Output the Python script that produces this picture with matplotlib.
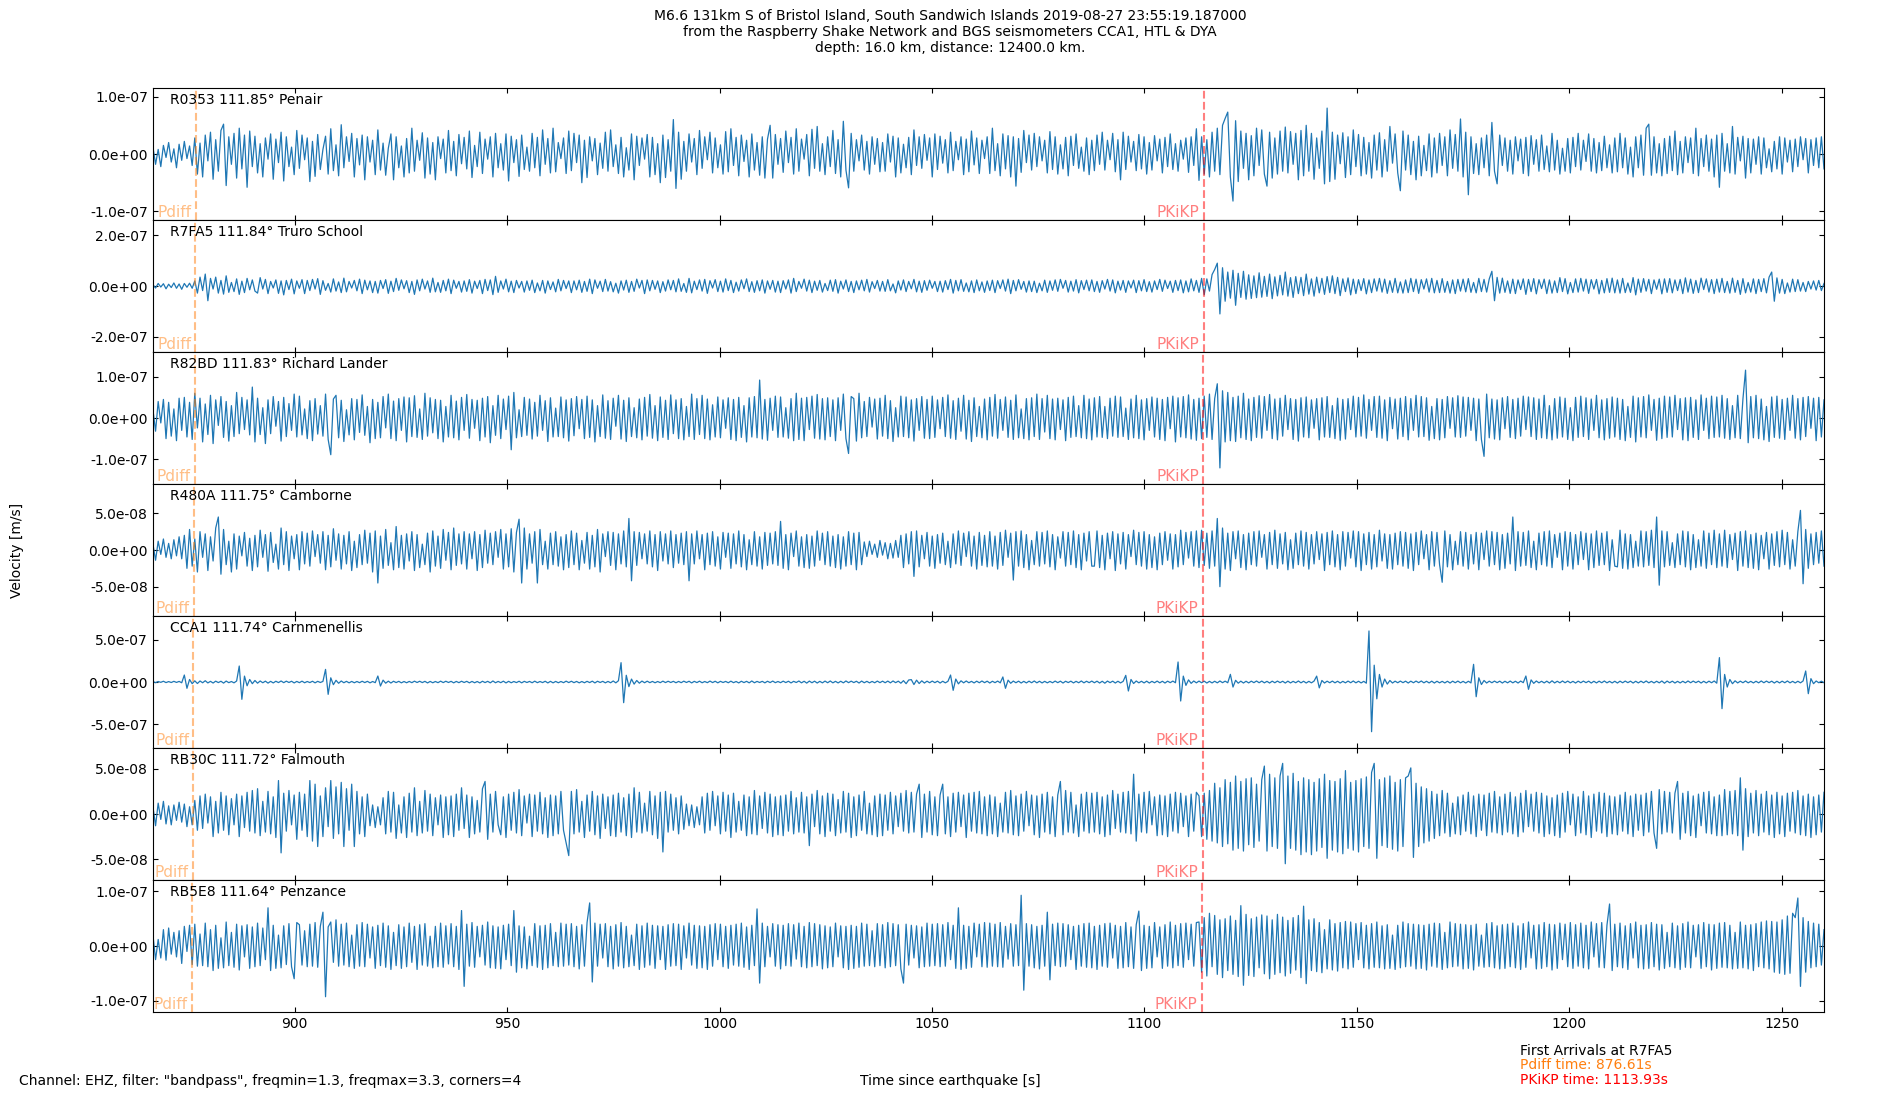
import numpy as np
import matplotlib
matplotlib.use('Agg')
import matplotlib.pyplot as plt
import matplotlib.transforms as mtransforms
from matplotlib.ticker import FormatStrFormatter

# time window of the traces (s since earthquake)
t_start = 866.61
t_end = 1260.0

stations = ['R0353', 'R7FA5', 'R82BD', 'R480A', 'CCA1', 'RB30C', 'RB5E8']
distances = [111.85, 111.84, 111.83, 111.75, 111.74, 111.72, 111.64]
places = ['Penair', 'Truro School', 'Richard Lander', 'Camborne',
          'Carnmenellis', 'Falmouth', 'Penzance']
pdiff_times = [876.66, 876.61, 876.56, 876.19, 876.15, 876.06, 875.69]
pkikp_times = [1113.95, 1113.93, 1113.91, 1113.77, 1113.75, 1113.71, 1113.56]

# velocity peaks, in nm/s (one row ~ 24.7 s)
r0353 = [
    12, -18, 8, -22, 15, -6, 20, -14, 9, -24, 17, -11, 22, -8, 14, -20, 28, -35, 19, -40, 33, -12, 38, -44, 25, -30, 41, 52, -55, 30, -18, 36, -42, 45, -26, 33, -58, 40, -22, 31,
    -33, 18, -40, 28, -9, 35, -44, 26, -15, 38, -47, 30, -22, 12, -36, 41, -25, 33, -10, 28, -48, 22, -39, 34, -27, 8, 31, -35, 44, -29, 16, -38, 51, -24, 30, -13, 36, -40, 27, -19,
    33, -45, 30, -14, 24, -36, 42, -28, 19, -37, 10, 35, -45, 30, -24, 14, -40, 27, -33, 45, -30, 24, -11, 37, -42, 28, -35, 20, -45, 30, -8, 26, -33, 41, -29, 22, -38, 34, -17, 29,
    -26, 40, -41, 15, -22, 38, -34, 26, -9, 30, -40, 36, -24, 18, -28, 35, -47, 31, -15, 25, -39, 33, -27, 12, -30, 36, -24, 29, -38, 42, -18, 27, -33, 45, -31, 20, -8, 28, -34, 40,
    -29, 36, -15, 33, -50, 24, -41, 30, -12, 27, -36, 19, -25, 38, -30, 42, -22, 16, -34, 29, -40, 11, -28, 35, -45, 31, -20, 28, -9, 34, -40, 29, -36, 18, -50, 33, -41, 25, -30, 60,
    -60, 38, -44, 22, -30, 35, -14, 27, -36, 41, -25, 30, -10, 38, -33, 28, -24, 16, -35, 39, -31, 44, -20, 29, -38, 33, -13, 24, -40, 35, -28, 20, -37, 30, -42, 26, 50, -42, 34, -18,
    27, -32, 40, -15, 29, -35, 44, -30, 26, -9, 34, -38, 43, -25, 48, -30, 18, -36, 30, -22, 41, -34, 25, -40, 57, -28, -59, 36, -30, 25, -12, 33, -28, 22, -35, 30, -18, 27, -31, 20,
    -30, 35, -14, 31, -40, 28, -33, 17, -24, 29, -36, 42, -20, 30, -25, 34, -11, 28, -40, 35, -27, 31, -16, 25, -33, 38, -29, 22, -10, 30, -36, 26, -31, 40, -19, 28, -34, 24, -8, 30,
    -34, 45, -29, 18, -38, 35, -26, 32, -40, 30, -56, 27, -32, 41, -15, 33, -28, 36, -22, 30, -12, 24, -33, 39, -27, 30, -35, 16, -26, 29, -38, 31, -20, 35, -25, 12, -30, 28, -36, 24,
    -29, 33, -18, 38, -28, 24, -10, 36, -31, 25, -45, 38, -27, 31, -14, 22, -29, 34, -26, 30, -35, 20, -28, 32, -12, 26, -33, 29, -22, 35, -27, 18, -30, 24, -9, 28, -32, 30, -20, 44,
    -46, 30, -35, 25, -40, 38, -30, 45, -36, 50, 62, 73, -40, -82, 58, -48, 40, -25, 36, -45, 32, -38, 45, -20, 42, -35, -56, 38, -42, 28, -35, 40, -30, 47, -33, 39, -18, 36, -45, 41,
    -38, 50, -30, 36, -44, 28, -25, 40, -52, 80, -48, 38, -44, 33, -17, 37, -41, 30, -36, 42, -22, 34, -38, 29, -35, 20, -42, 33, -28, 37, -40, 25, -30, 48, -16, 35, -33, -64, 40, -28,
    33, -36, 22, -45, 31, -38, 15, -29, 35, -40, 28, -33, 36, -20, 30, -38, 42, -25, 34, -30, 61, -40, 38, -71, 30, -34, 18, -36, 28, -24, 33, -38, 55, -30, -52, 33, -20, 28, -30, 24,
    -35, 30, -12, 26, -34, 29, -38, 32, -18, 25, -30, 33, -27, 14, -31, 36, -28, 24, -35, 10, -30, 27, -33, 29, -22, 36, -28, 24, -13, 35, -30, 27, -33, 20, -29, 31, -24, 16, -33, 28,
    -31, 36, -24, 28, -35, 12, -40, 30, -24, 33, -37, 45, 52, -37, 30, -33, 18, -38, 27, -34, 31, -29, 40, -36, 22, -33, 30, -15, 28, -34, 45, -38, 27, -22, 33, -30, 26, -40, 33, -58,
    36, -30, 18, -33, 48, -35, 29, -12, 31, -42, 27, -33, 26, -18, 30, -35, 28, -24, 9, -31, 22, -26, 30, -35, 28, -14, 24, -31, 26, -22, 30, -10, 27, -33, 25, -20, 28, -24, 30, -26,
]
r7fa5 = [
    5, -8, 10, -4, 9, -11, 7, -6, 12, -9, 8, -13, 10, -5, 11, -9, 20, -28, 35, -18, 47, -58, 30, -12, 35, -28, 22, -32, 40, -25, 14, -22, 28, -33, 19, -26, 30, -15, 24, -20,
    -28, 33, -12, 26, -30, 18, -8, 24, -29, 20, -35, 22, -14, 27, -31, 20, -9, 25, -30, 22, -18, 26, -12, 29, -33, 21, -17, 10, -24, 28, -20, 16, -26, 31, -23, 18, -8, 22, -19, 27,
    -30, 23, -15, 20, -26, 18, -28, 22, -10, 25, -29, 19, -22, 30, -17, 24, -11, 21, -26, 18, -33, 24, -19, 27, -12, 20, -25, 31, -23, 14, -25, 22, -19, 27, -30, 23, -9, 18, -24, 20,
    -21, 25, -28, 19, -10, 22, -30, 26, -18, 24, -34, 38, -25, 20, -12, 27, -23, 19, -26, 22, -8, 18, -24, 20, -17, 23, -26, 12, -19, 22, -28, 20, -14, 16, -23, 26, -19, 22, -10, 20,
    -26, 20, -15, 23, -25, 18, -21, 27, -30, 24, -9, 19, -22, 26, -20, 17, -23, 11, -28, 20, -16, 23, -25, 18, -21, 27, -8, 22, -30, 24, -19, 22, -13, 20, -26, 17, -20, 24, -15, 22,
    -23, 28, -21, 10, -25, 30, -27, 19, -14, 24, -20, 26, -29, 21, -8, 25, -22, 19, -24, 28, -18, 22, -26, 15, -20, 24, -11, 28, -22, 17, -25, 21, -19, 24, -28, 20, -13, 22, -24, 19,
    -26, 21, -12, 24, -28, 30, -22, 18, -9, 27, -20, 23, -26, 19, -17, 22, -24, 10, -18, 23, -21, 25, -28, 19, -12, 24, -22, 18, -26, 20, -15, 23, -19, 26, -24, 17, -10, 22, -20, 18,
    -21, 25, -19, 8, -27, 20, -16, 24, -22, 18, -11, 26, -23, 19, -25, 21, -17, 23, -9, 18, -22, 19, -24, 21, -14, 26, -28, 22, -19, 25, -21, 12, -23, 20, -26, 24, -19, 16, -25, 20,
    -18, 23, -26, 21, -10, 24, -20, 27, -30, 22, -19, 25, -13, 18, -24, 20, -22, 19, -26, 11, -19, 23, -25, 20, -17, 24, -21, 26, -9, 22, -24, 19, -20, 25, -27, 21, -14, 23, -19, 24,
    -22, 18, -25, 21, -12, 26, -20, 24, -27, 19, -16, 22, -25, 20, -8, 23, -26, 21, -19, 25, -22, 17, -24, 20, -14, 26, -21, 23, -10, 19, -25, 22, -18, 24, -27, 20, -23, 28, -19, 22,
    -25, 30, -34, 28, -20, 45, 65, 90, -110, 72, -60, 55, -48, 62, -76, 50, -45, 58, -52, 44, -49, 40, -46, 52, -44, 38, -41, 47, -50, 36, -39, 42, -35, 55, -40, 33, -45, 37, -30, 34,
    -38, 47, -32, 28, -40, 35, -27, 30, -33, 37, -26, 40, -30, 34, -38, 28, -22, 32, -35, 27, -30, 25, -18, 29, -31, 24, -26, 28, -20, 30, -24, 27, -29, 21, -25, 30, -27, 16, -28, 24,
    -26, 30, -22, 27, -29, 25, -12, 28, -24, 30, -27, 22, -26, 29, -25, 18, -28, 24, -30, 26, -20, 27, -23, 29, -25, 14, -27, 30, -22, 26, -24, 28, 58, -58, 34, -28, 31, -25, 20, -29,
    27, -30, 24, -14, 28, -33, 26, -22, 29, -31, 25, -10, 27, -30, 24, -28, 20, -26, 33, -22, 29, -31, 14, -26, 28, -24, 30, -20, 27, -29, 25, -12, 26, -31, 22, -27, 29, -25, 31, -27,
    24, -28, 30, -26, 12, -25, 33, -35, 27, -25, 29, -20, 26, -30, 24, -13, 27, -31, 28, -25, 29, -27, 24, -18, 26, -30, 32, -24, 27, -29, 22, -26, 31, -14, 28, -24, 25, -30, 27, -24,
    30, -26, 18, -28, 31, -25, 22, -33, 29, -27, 14, -24, 28, -30, 26, -22, 29, -27, 35, 55, -60, 32, -28, 26, -30, 12, -24, 27, -22, 25, -20, 14, -22, 18, -12, 20, -16, 22, -18, 10,
]
r82bd = [
    20, -32, 40, -12, 45, -50, 38, -44, 22, -55, 48, -30, 50, -46, 38, -52, 60, -24, 48, -58, 34, -40, 55, -62, 44, -18, 52, -47, 40, -56, 30, -45, 62, -38, 50, -28, 44, -41, 75, -58,
    48, -40, 25, -62, 44, -38, 52, -20, 40, -56, 50, -45, 35, -30, 58, -46, 53, -41, 22, -50, 42, -55, 47, -39, 30, -44, 58, -52, -89, 46, 55, -48, 43, -57, 20, -41, 47, -53, 45, -35,
    56, -42, 28, -60, 45, -50, 38, -48, 52, -24, 58, -50, 41, -55, 47, -30, 51, -58, 49, -45, 54, -47, 22, -52, 60, -44, 49, -36, 45, -50, 43, -58, 28, -46, 55, -48, 41, -53, 50, -30,
    57, -49, 45, -25, 43, -55, 48, -46, 52, -60, 30, -42, 55, -50, 46, -28, 53, -77, 62, -48, 20, -45, 50, -42, 46, -51, 38, -44, 55, -30, 42, -57, 49, -46, 24, -45, 51, -48, 44, -56,
    47, -43, 52, -26, 45, -50, 53, -47, 44, -58, 30, -45, 56, -49, 42, -52, 48, -20, 55, -51, 43, -57, 49, -45, 25, -48, 46, -53, 50, -44, 57, -49, 30, -55, 51, -47, 43, -52, 56, -38,
    44, -50, 47, -53, 28, -45, 58, -52, 47, -40, 55, -50, 46, -53, 32, -46, 51, -48, 44, -25, 49, -52, 45, -55, 50, -47, 30, -58, 49, -46, 52, -48, 92, -51, 45, -54, 48, -30, 53, -47,
    51, -46, 25, -49, 47, -55, 60, -52, 48, -55, 50, -28, 53, -49, 57, -51, 47, -53, 49, -45, 44, -55, 49, -30, 58, -50, -86, 52, 47, -56, 60, -48, 40, -45, 50, -22, 46, -51, 48, -44,
    55, -50, 42, -57, 25, -46, 53, -45, 51, -48, 44, -56, 47, -30, 52, -49, 45, -50, 53, -47, 44, -26, 50, -45, 56, -49, 42, -52, 48, -32, 55, -51, 43, -57, 49, -45, 28, -48, 46, -53,
    50, -44, 57, -49, 45, -30, 51, -47, 43, -52, 56, -48, 22, -50, 47, -53, 49, -45, 58, -52, 47, -34, 55, -50, 46, -53, 48, -28, 44, -55, 50, -47, 53, -45, 30, -48, 55, -50, 46, -53,
    49, -46, 52, -47, 28, -50, 48, -44, 53, -47, 51, -45, 24, -52, 46, -48, 55, -50, 44, -53, 47, -30, 51, -46, 48, -52, 45, -55, 50, -26, 53, -58, 49, -46, 52, -48, 56, -51, 45, -54,
    48, -50, 53, -47, 58, -52, 47, 83, -121, 66, -58, 62, -55, 50, -57, 53, -48, 60, -52, 46, -55, 50, -47, 54, -49, 52, -30, 57, -50, 46, -53, 48, -44, 55, -28, 47, -52, 45, -56, 49,
    -46, 51, -48, 44, -25, 47, -53, 49, -46, 52, -47, 30, -50, 48, -54, 45, -51, 47, -28, 53, -46, 50, -44, 56, -49, 45, -30, 52, -47, 53, -49, 44, -55, 50, -26, 46, -51, 48, -45, 52,
    -53, 47, -30, 55, -46, 52, -45, 49, -54, 28, -50, 47, -53, 45, -48, 52, -25, 49, -46, 54, -47, 51, -44, 50, -30, 48, -55, 46, -52, -93, 58, -48, 46, -51, 44, -53, 49, -26, 52, -47,
    45, -50, 48, -44, 53, -28, 51, -45, 49, -52, 46, -48, 55, -50, 30, -53, 47, -49, 51, -46, 48, -52, 25, -55, 50, -47, 53, -45, 49, -52, 46, -30, 55, -48, 44, -53, 47, -49, 51, -46,
    48, -52, 45, -55, 28, -47, 53, -58, 49, -46, 52, -48, 56, -30, 45, -54, 48, -50, 53, -47, 51, -46, 55, -28, 47, -53, 49, -55, 50, -47, 44, -52, 56, -30, 48, -50, 53, -47, 51, -46,
    55, -49, 47, -52, 30, -48, 55, -50, 46, 116, -60, 52, -48, 55, -50, 46, -53, 28, -57, 51, -47, 53, -49, 45, -52, 48, -30, 55, -49, 47, -53, 50, -45, 52, -25, 48, -55, 50, -46, 44,
]
r480a = [
    8, -14, 12, -6, 15, -10, 9, -12, 14, -8, 18, -12, 20, -25, 28, -22, 15, -30, 25, -10, 22, -28, 18, -15, 30, 45, -33, 28, -20, 12, -30, 22, -26, 19, -8, 24, -22, 16, -28, 20,
    -23, 27, -10, 21, -29, 24, -17, 8, -26, 30, -20, 25, -28, 19, -12, 21, -27, 25, -19, 23, -22, 26, -9, 21, -18, 25, -27, 20, -23, 29, -14, 22, -26, 20, -19, 25, -28, 12, -24, 21,
    -20, 27, -18, 23, -30, 26, -45, 19, -25, 28, -21, 10, -27, 32, -24, 20, -26, 22, -15, 25, -28, 21, -24, 8, -20, 23, -30, 26, -22, 19, -25, 28, -14, 24, -27, 30, -21, 22, -19, 25,
    -26, 22, -12, 25, -28, 21, -24, 27, -18, 23, -20, 25, -10, 28, -26, 22, -23, 29, -30, 24, 42, -45, 30, -26, 22, -18, 25, -45, 28, -20, 12, -26, 23, -20, 25, -22, 18, -27, 21, -24,
    26, -20, 23, -27, 13, -18, 24, -26, 20, -23, 28, -30, 22, -9, 25, -21, 24, -27, 22, -19, 26, -23, 43, -42, 25, -21, 24, -12, 22, -19, 26, -23, 21, -28, 25, -15, 22, -19, 26, -24,
    21, -18, 23, -20, 25, -42, 22, -19, 26, -12, 21, -27, 23, -20, 25, -22, 18, -26, 24, -10, 23, -25, 22, -19, 26, -23, 21, -27, 14, -20, 25, -22, 18, -26, 24, -21, 23, -19, 25, -21,
    39, -25, 21, -27, 23, -9, 26, -22, 18, -24, 21, -25, 19, -22, 26, -14, 23, -20, 25, -22, 19, -24, 21, -26, 18, -22, 25, -20, 23, -27, 24, -20, 11, -9, 12, -6, 8, -10, 13, -7,
    10, -12, 9, -11, 13, -10, 20, -24, 22, -19, 25, -36, 26, -23, 20, -12, 24, -22, 19, -25, 21, -18, 23, -20, 12, -24, 22, -19, 26, -21, 23, -9, 25, -22, 19, -26, 24, -21, 20, -23,
    25, -22, 19, -26, 24, -21, 27, -10, 23, -41, 25, -22, 26, -24, 21, -27, 13, -20, 25, -22, 24, -19, 26, -23, 21, -27, 18, -11, 25, -22, 24, -20, 26, -24, 21, -27, 23, -15, 25, -22,
    -22, 26, -24, 20, -27, 23, -12, 25, -28, 22, -19, 24, -26, 21, -9, 27, -20, 24, -22, 25, -26, 21, -24, 18, -27, 23, -20, 25, -14, 22, -26, 21, -23, 27, -20, 24, -11, 25, -22, 26,
    -24, 27, -21, 23, -25, 26, -22, 43, -50, 30, -26, 23, -28, 25, -12, 26, -24, 21, -27, 23, -20, 25, -22, 26, -10, 21, -26, 24, -20, 27, -25, 22, -19, 24, -27, 14, -25, 23, -20, 26,
    -22, 24, -26, 21, -19, 25, -13, 22, -28, 24, -20, 26, -23, 21, -27, 25, -22, 24, -11, 26, -23, 25, -28, 22, -20, 24, -26, 21, -23, 27, -15, 22, -25, 21, -26, 23, -20, 25, -22, 24,
    -25, 22, -28, 24, -20, 26, -12, 21, -27, 25, -22, 24, -20, -44, 26, -23, 21, -27, 12, -20, 25, -22, 24, -26, 21, -19, 24, -27, 23, -13, 26, -22, 25, -20, 24, -27, 21, -25, 23, -19,
    45, -28, 25, -22, 24, -21, 26, -24, 12, -27, 23, -20, 25, -22, 26, -24, 21, -10, 23, -27, 25, -22, 24, -26, 21, -20, 25, -13, 23, -27, 22, -24, 26, -21, 23, -20, 25, -28, 14, -22,
    -23, 27, -25, 22, -26, 21, -24, 12, -22, 26, -23, 25, -21, 27, -24, 45, -48, 26, -23, 25, -21, 10, -24, 22, -20, 26, -23, 25, -27, 21, -24, 14, -22, 26, -25, 23, -20, 27, -24, 22,
    -22, 27, -24, 21, -13, 23, -28, 25, -22, 26, -24, 21, -25, 23, -27, 20, -12, 24, -26, 22, -21, 25, -23, 27, -20, 24, -26, 14, -22, 25, 54, -46, 28, -25, 22, -20, 24, -18, 26, -22,
]
cca1 = [
    5, -8, 6, -4, 9, -7, 5, -6, 8, -5, 7, -9, 83, -75, 30, -20, 14, -18, 12, -9, 15, -11, 8, -12, 10, -7, 9, -13, 11, -8, 6, -10, 12, 190, -206, 70, -45, 30, -20, 18,
    -14, 12, -9, 10, -13, 8, -11, 9, -7, 12, -8, 10, -6, 9, -11, 7, -8, 10, -9, 6, -7, 9, -10, 8, -6, 7, 150, -147, 50, -32, 20, -15, 12, -9, 8, -10, 7, -9, 6, -8,
    9, -7, 8, -10, 6, -8, 71, -48, 22, -14, 10, -12, 9, -7, 8, -10, 6, -9, 7, -8, 10, -6, 9, -7, 8, -11, 7, -9, 6, -8, 10, -7, 9, -6, 8, -10, 7, -8, 9, -6,
    8, -10, 7, -9, 6, -11, 9, -7, 8, -10, 12, -9, 7, -8, 10, -11, 8, -9, 6, -7, 9, -10, 8, -6, 7, -9, 10, -8, 6, -7, 9, -11, 8, -10, 7, -9, 6, -8, 10, -7,
    9, -8, 7, -10, 6, -9, 8, -7, 10, -11, 9, -6, 8, -10, 7, -9, 12, -10, 15, 230, -246, 80, -55, 35, -25, 18, -14, 11, -9, 10, -8, 7, -9, 6, -8, 10, -7, 9, -6, 8,
    -9, 7, -8, 10, -6, 9, -11, 8, -7, 10, -9, 6, -8, 11, -7, 9, -10, 8, -6, 7, -9, 10, -8, 6, -11, 9, -7, 8, -10, 12, -9, 7, -6, 8, -10, 9, -7, 11, -8, 6,
    -8, 10, -7, 9, -11, 8, -6, 12, -10, 9, -13, 11, -9, 10, -12, 8, -10, 11, -9, 12, -10, 8, -11, 9, -10, 12, -8, 10, -7, 9, -12, 11, -9, 8, -10, 7, -9, 11, -8, 10,
    -9, 11, -10, 12, -8, 10, -14, 16, -20, 24, 28, -30, 22, -18, 14, -12, 10, -9, 11, -8, 10, -12, 9, -10, 8, 83, -99, 35, -22, 14, -10, 12, -9, 8, -11, 10, -9, 12, -8, 10,
    -12, 9, -8, 11, -10, 60, -75, 22, -15, 11, -9, 10, -12, 8, -11, 10, -9, 12, -10, 9, -11, 8, -10, 7, -9, 11, -8, 10, -12, 9, -7, 10, -11, 8, -9, 12, -10, 9, -8, 11,
    -9, 10, -12, 9, -14, 11, -8, 10, -12, 9, -11, 8, 79, -107, 30, -18, 12, -10, 9, -11, 10, -12, 8, -9, 11, -10, 9, -12, 10, -8, 11, -9, 238, -226, 70, -40, 25, -16, 12, -10,
    11, -9, 10, -12, 8, -11, 9, -10, 12, -8, 10, -9, 91, -60, 20, -14, 10, -12, 9, -11, 10, -8, 12, -9, 11, -10, 8, -12, 10, -9, 11, -8, 9, -12, 10, -11, 8, -9, 12, -10,
    9, -12, 8, -10, 11, 70, -70, 18, -12, 10, -9, 11, -10, 9, -12, 8, -10, 11, -9, 12, -10, 9, -11, 8, -14, 607, -591, 200, -200, 90, -60, 35, -25, 18, -12, 10, -9, 11, -8, 10,
    -12, 10, -9, 11, -8, 12, -10, 9, -11, 10, -12, 9, -10, 8, -11, 9, -12, 10, -9, 11, -10, 8, -12, 9, -11, 210, -175, 50, -30, 18, -12, 10, -9, 11, -8, 10, -12, 9, -10, 11,
    -10, 9, -12, 11, -8, 71, -87, 25, -16, 12, -10, 9, -11, 10, -12, 14, -11, 9, -10, 12, -9, 11, -10, 8, -12, 10, -9, 11, -8, 10, -12, 9, -11, 10, -9, 12, -10, 8, -11, 9,
    -12, 10, -9, 11, -8, 10, -12, 9, -11, 10, -9, 12, -10, 8, -11, 9, -10, 12, -14, 11, -9, 10, -12, 8, -11, 9, -10, 12, -9, 11, -8, 10, -12, 9, -11, 10, -9, 12, -14, 290,
    -317, 90, -60, 30, -20, 14, -11, 10, -9, 12, -10, 8, -11, 9, -10, 12, -9, 11, -8, 10, -12, 9, -11, 10, -9, 12, -10, 8, -11, 9, -10, 12, 131, -139, 40, -20, 12, -9, 10, -8,
]
rb30c = [
    8, -13, 12, -6, 14, -11, 9, -12, 10, -7, 13, -9, 11, -14, 8, -12, 15, -18, 20, -16, 22, -10, 19, -25, 14, -21, 24, -18, 20, -23, 17, -12, 22, -25, 20, -15, 24, -19, 26, -21,
    28, -24, 14, -20, 25, -22, 19, -26, 37, -43, 23, -19, 26, -12, 21, -28, 24, -18, 22, -25, 37, -30, 33, -36, 20, -25, 29, -14, 37, -27, 30, -22, 35, -36, 28, -18, 33, -36, 25, -22,
    19, -25, 22, -13, 10, -15, 8, -12, 18, -22, 25, -20, 24, -27, 10, -21, 19, -26, 23, -20, 29, -24, 14, -21, 26, -19, 22, -24, 18, -12, 21, -26, 19, -23, 20, -25, 22, -18, 29, -16,
    21, -26, 19, -22, 15, -20, 28, 36, -28, 22, -20, 25, -12, -23, 19, -26, 22, -18, 24, -21, 27, -24, 20, -10, 22, -25, 21, -19, 24, -22, 18, -26, 21, -24, 20, -22, 25, -18, -32, -46,
    25, -22, 27, -20, 14, -26, 21, -19, 25, -23, 20, -27, 22, -16, 19, -24, 21, -25, 23, -20, 18, -24, 22, -26, 29, -20, 24, -21, 12, -19, 25, -23, 20, -27, 24, -42, 25, -20, 22, -18,
    18, -22, 20, -17, 11, -13, 10, -15, 8, -12, 19, -21, 23, -18, 25, -13, 20, -22, 24, -19, 21, -26, 23, -20, 14, -18, 21, -24, 19, -22, 26, -23, 20, -16, 24, -21, 22, -25, 19, -23,
    20, -24, 21, -19, 25, -22, 18, -20, 24, -21, 19, -35, 22, -14, 26, -22, 20, -25, 23, -19, 22, -24, 16, -21, 25, -20, 23, -26, 19, -24, 21, -18, 25, -22, 12, -23, 20, -25, 22, -24,
    21, -18, 24, -22, 20, -14, 23, -19, 26, -21, 24, -20, 22, 33, -26, 22, -20, 25, -23, 19, -24, 21, 33, -22, 19, -25, 23, -20, 24, -14, 21, -26, 23, -19, 24, -21, 25, -22, 19, -24,
    21, -22, 19, -25, 12, -20, 24, -21, 26, -23, 20, -24, 22, -19, 25, -13, 21, -23, 20, -26, 22, -20, 24, -22, 19, -25, 21, 36, -23, 26, -20, 24, -21, 10, -25, 22, -19, 24, -21, 23,
    -20, 24, -22, 19, -25, 21, -23, 26, -16, 22, -20, 24, -21, 25, -22, 44, -30, 22, -20, 24, -21, 25, -12, 19, -24, 21, -23, 20, -25, 22, -19, 24, -21, 23, -14, 20, -25, 22, -19, 24,
    20, -25, 23, -28, 26, -30, 34, -32, 29, -36, 38, -33, 35, -40, 42, -38, 36, -41, 39, -34, 40, -37, 33, -30, 38, 53, -41, 44, -36, 40, -38, 42, 56, -55, 42, -38, 45, -40, 36, -45,
    40, -42, 38, -45, 35, -41, 39, -37, 44, -49, 37, -40, 36, -42, 39, -44, 48, -38, 35, -40, 37, -42, 39, -36, 41, -38, 46, 56, -49, 38, -35, 40, -37, 42, -39, 35, -41, 38, -36, 40,
    42, 51, -48, 34, -36, 30, -32, 28, -30, 25, -27, 22, -24, 26, -21, 23, -25, 12, -22, 19, -23, 21, -19, 24, -22, 20, -25, 22, -18, 21, -24, 23, -20, 25, -21, 19, -23, 22, -20, 24,
    -22, 19, -25, 23, -20, 26, -14, 22, -19, 24, -21, 23, -25, 20, -22, 18, -24, 21, -26, 23, -20, 25, -12, 22, -24, 19, -21, 25, -23, 20, -26, 22, -19, 24, -21, 23, -25, 20, -22, 19,
    -23, 21, -19, 24, -22, 20, -25, 22, -18, 21, -24, 23, -20, 25, -21, -38, 27, -22, 25, -20, 24, -21, 23, 36, -28, 23, -21, 25, -24, 20, -26, 22, -13, 24, -21, 25, -22, 19, -24, 21,
    -24, 27, -23, 25, -22, 26, -24, 40, -40, 28, -25, 23, -21, 26, -24, 22, -20, 25, -23, 21, -26, 24, -22, 20, -25, 23, -19, 24, -21, 26, -23, 20, -24, 22, -26, 19, -23, 21, -20, 24,
]
rb5e8 = [
    20, -25, 12, -22, 30, -26, 33, -15, 25, -20, 28, -32, 36, -10, 38, -34, 40, -37, 22, -36, 42, -38, 30, -45, 38, -41, 15, -40, 44, -36, 25, -39, 40, -44, 37, -20, 39, -41, 35, -38,
    42, -36, 33, -25, 70, -45, 38, -41, 20, -40, 37, -34, 41, -38, -60, 43, 39, -35, 28, -38, 40, -37, 43, -39, 36, 62, -93, 35, 44, -30, 48, -37, 40, -35, 42, -38, 20, -41, 39, -37,
    43, -38, 40, -22, 35, -41, 38, -36, 42, -39, 37, -43, 25, -36, 39, -41, 35, -38, 42, -30, 36, -43, 39, -35, 41, -37, 18, -40, 36, -38, 42, -39, 37, -33, 41, -38, 36, -43, 65, -74,
    40, -37, 43, -39, 36, -20, 38, -35, 44, -40, 37, -41, 35, -42, 38, -25, 40, -36, 65, -48, 37, -40, 35, -42, 18, -36, 41, -39, 37, -43, 38, -40, 41, -36, 25, -38, 42, -37, 40, -35,
    41, -38, 36, -42, 39, -37, 43, 79, -66, 42, -37, 40, -22, 41, -38, 36, -42, 39, -37, 43, -40, 36, -38, 20, -36, 40, -43, 37, -39, 42, -35, 38, -41, 37, -25, 36, -43, 39, -37, 41,
    -36, 40, -43, 37, -22, 42, -35, 38, -41, 37, -40, 36, -43, 39, -37, 41, -25, 40, -38, 36, -41, 38, -35, 40, -37, 42, -39, 35, -43, 38, -36, 68, -68, 42, -38, 36, -20, 41, -37, 39,
    -42, 38, -36, 41, -37, 39, -24, 42, -38, 36, -40, 43, -38, 41, -36, 39, -42, 37, -40, 35, -38, 42, -20, 37, -40, 36, -43, 38, -41, 36, -39, 42, -37, 40, -36, 28, -38, 41, -36, 39,
    -40, 43, -38, 41, -36, 39, -42, -68, 40, -35, 38, -22, 37, -40, 35, -38, 42, -37, 40, -36, 41, -38, 39, -37, 43, -25, 38, -41, 70, -43, 38, -41, 36, -39, 42, -20, 40, -38, 43, -39,
    42, -37, 40, -38, 43, -39, 36, -24, 41, -37, 39, -36, 93, -81, 41, -37, 39, -40, 36, -42, 38, -37, 62, -62, 40, -36, 42, -38, 41, -37, 39, -25, 36, -43, 38, -37, 41, -39, 42, -40,
    36, -43, 38, -37, 41, -39, 42, -22, 38, -41, 36, -40, 43, -38, 35, -41, 39, 64, -45, 38, -41, 36, -40, 43, -20, 35, -41, 39, -37, 44, -40, 38, -36, 41, -39, 42, -25, 40, -37, 43,
    44, -48, 52, -55, 60, -38, 56, -52, 48, -58, 50, -45, 55, -52, 47, -56, 74, -72, 58, -54, 50, -56, 53, -40, 57, -51, 55, -60, 48, -52, 58, -49, 53, -55, 47, -50, 52, -44, 56, -58,
    73, -69, 48, -45, 50, -47, 43, -49, 30, -42, 48, -44, 41, -46, 43, -40, 45, -42, 44, -39, 41, -25, 43, -40, 38, -42, 41, -39, 44, -40, 37, -42, 39, -41, 20, -43, 38, -40, 44, -38,
    41, -37, 40, -42, 39, -41, 38, -44, 40, -37, 42, -39, 41, -43, 25, -40, 44, -38, 41, -37, 40, -42, 39, -41, 38, -44, 40, -37, 20, -39, 41, -38, 43, -40, 37, -42, 39, -41, 40, -38,
    42, -40, 37, -43, 41, -39, 44, -22, 38, -42, 39, -41, 43, -38, 40, -44, 39, -41, 42, -25, 40, -38, 43, -41, 39, -37, 42, -40, 38, -42, 44, -20, 41, -39, 43, -40, 38, 77, -45, 40,
    -38, 42, -40, 37, -43, 41, -22, 44, -40, 38, -42, 39, -41, 43, -38, 40, -44, 39, -41, 25, -38, 42, -40, 37, -43, 41, -39, 44, -40, 38, -20, 39, -41, 43, -38, 40, -44, 39, -41, 42,
    -39, 43, -40, 38, -42, 25, -41, 44, -40, 38, -42, 39, -45, 41, -38, 44, -40, 46, -42, 45, -48, 44, -50, 48, -52, 55, -50, 60, 52, 88, -74, 52, -48, 45, -40, 42, -38, 40, -35, 30,
]
traces = [r0353, r7fa5, r82bd, r480a, cca1, rb30c, rb5e8]

# y range and tick step of each panel (m/s)
y_limits = [1.15e-7, 2.6e-7, 1.6e-7, 9.0e-8, 7.85e-7, 7.3e-8, 1.21e-7]
y_ticks = [1e-7, 2e-7, 1e-7, 5e-8, 5e-7, 5e-8, 1e-7]

fig, axes = plt.subplots(7, 1, sharex=True, figsize=(19, 11), dpi=100)
fig.subplots_adjust(left=0.0805, right=0.96, top=0.92, bottom=0.08, hspace=0)

for i, ax in enumerate(axes):
    vel = np.array(traces[i]) * 1e-9
    t = np.linspace(t_start, t_end, len(vel))
    ax.plot(t, vel, color='C0', lw=0.9)
    ax.set_xlim(t_start, t_end)
    ax.set_ylim(-y_limits[i], y_limits[i])
    ax.set_yticks([-y_ticks[i], 0, y_ticks[i]])
    ax.yaxis.set_major_formatter(FormatStrFormatter('%.1e'))
    ax.tick_params(direction='in', top=True, right=True, labelsize=10)

    ax.text(0.01, 0.96, stations[i] + ' ' + str(distances[i]) + '\u00b0 ' + places[i],
            transform=ax.transAxes, va='top', ha='left', fontsize=10)

    trans = mtransforms.blended_transform_factory(ax.transData, ax.transAxes)
    ax.axvline(pdiff_times[i], ls='--', color='C1', alpha=0.5, lw=1.5)
    ax.axvline(pkikp_times[i], ls='--', color='red', alpha=0.5, lw=1.5)
    ax.text(pdiff_times[i] - 1.0, 0.0, 'Pdiff', transform=trans, color='C1',
            alpha=0.5, ha='right', va='bottom', fontsize=11)
    ax.text(pkikp_times[i] - 1.0, 0.0, 'PKiKP', transform=trans, color='red',
            alpha=0.5, ha='right', va='bottom', fontsize=11)

fig.suptitle('M6.6 131km S of Bristol Island, South Sandwich Islands 2019-08-27 23:55:19.187000\n'
             'from the Raspberry Shake Network and BGS seismometers CCA1, HTL & DYA\n'
             'depth: 16.0 km, distance: 12400.0 km.', y=0.992, fontsize=10)

fig.text(0.009, 0.5, 'Velocity [m/s]', rotation=90, va='center', ha='center', fontsize=10)
fig.text(0.5, 0.0175, 'Time since earthquake [s]', ha='center', va='center', fontsize=10)
fig.text(0.01, 0.0175, 'Channel: EHZ, filter: "bandpass", freqmin=1.3, freqmax=3.3, corners=4',
         ha='left', va='center', fontsize=10)

fig.text(0.8, 0.0445, 'First Arrivals at R7FA5', ha='left', va='center', fontsize=10)
fig.text(0.8, 0.0315, 'Pdiff time: 876.61s', ha='left', va='center', fontsize=10, color='C1')
fig.text(0.8, 0.0185, 'PKiKP time: 1113.93s', ha='left', va='center', fontsize=10, color='red')

plt.savefig('out.png', dpi=100)
